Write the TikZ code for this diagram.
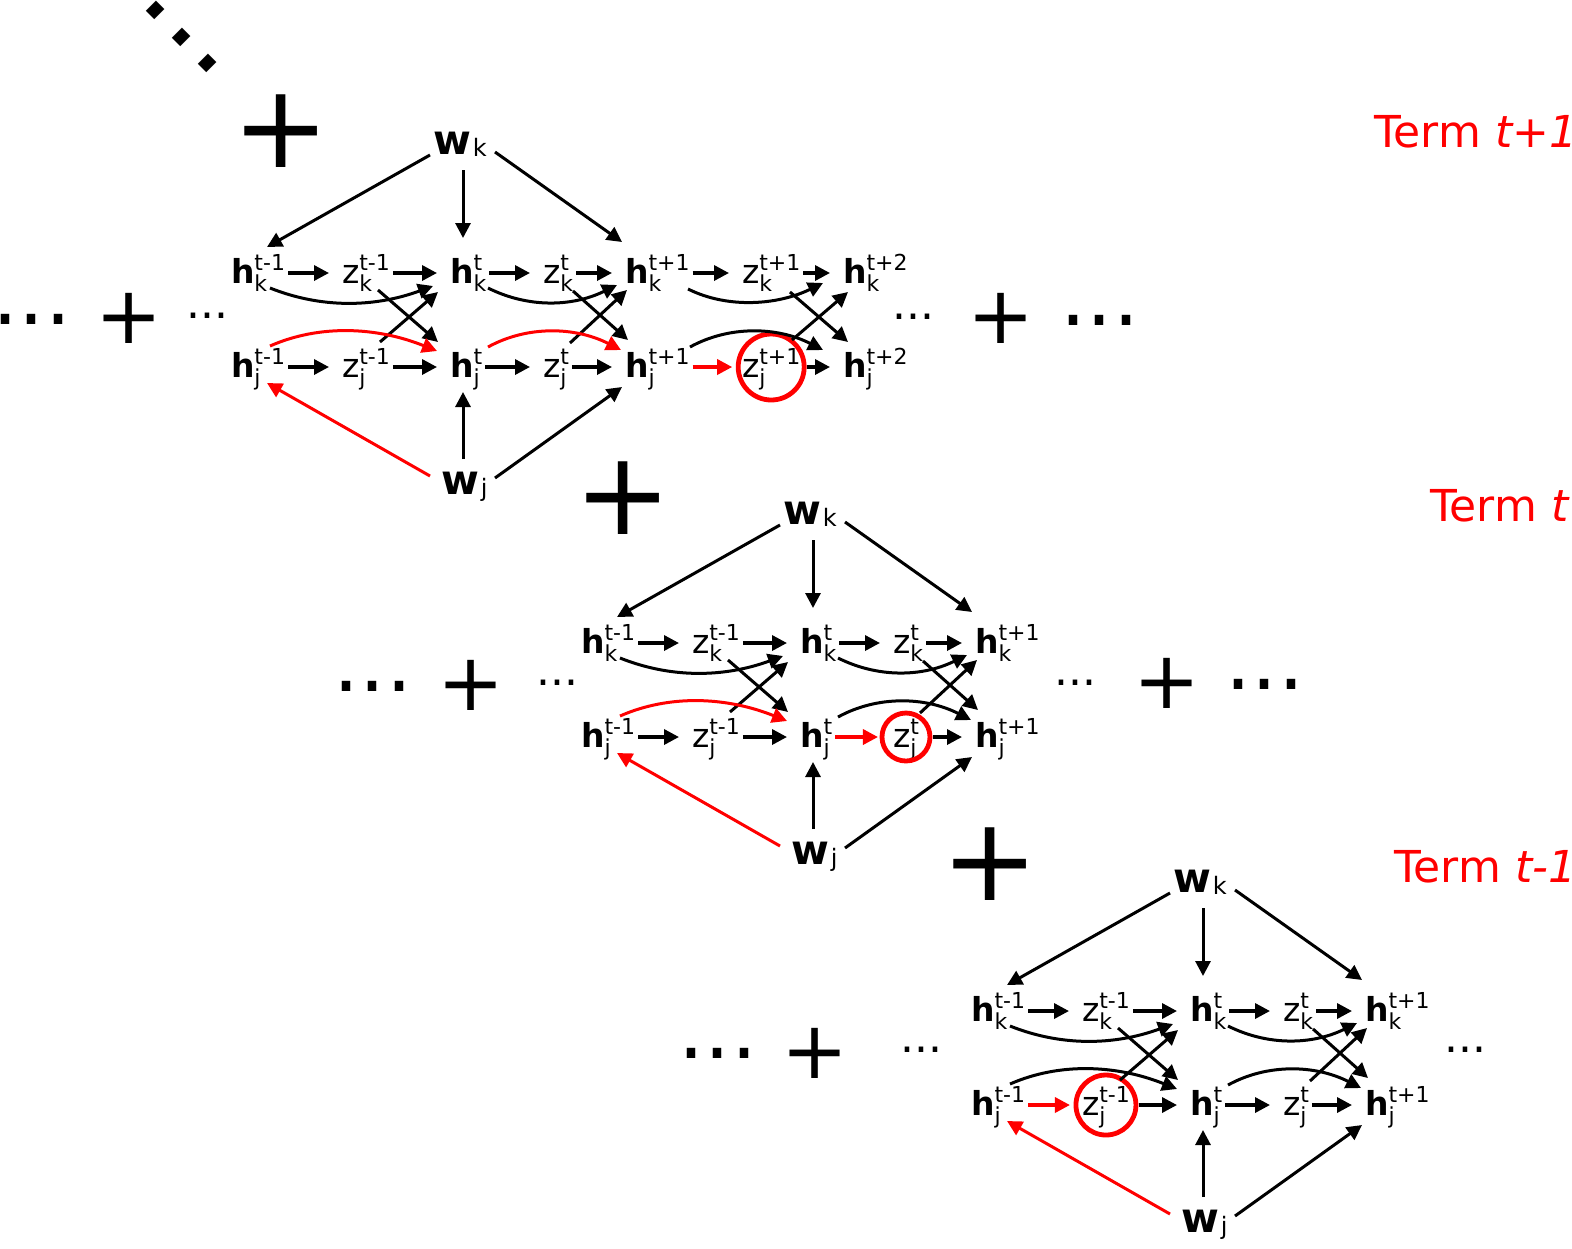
\documentclass[tikz,border=0pt]{standalone}
\usepackage{fontspec}
\setmainfont{DejaVu Sans}
\usetikzlibrary{arrows.meta}

\newsavebox\labsup
\newsavebox\labsub
\newlength\lablen
\newcommand\lab[3]{#1%
  \sbox\labsup{\fontsize{11}{11}\selectfont #2}%
  \sbox\labsub{\fontsize{11}{11}\selectfont #3}%
  \setlength\lablen{\wd\labsup}%
  \ifdim\wd\labsub>\lablen\setlength\lablen{\wd\labsub}\fi
  \rlap{\raisebox{6.5pt}{\usebox\labsup}}%
  \rlap{\raisebox{-4pt}{\usebox\labsub}}%
  \hspace*{\lablen}}
\newcommand\hlab[2]{\lab{\textbf{h}}{#1}{#2}}
\newcommand\zlab[2]{\lab{z}{#1}{#2}}
\newcommand\wlab[1]{\textbf{w}\kern1pt\raisebox{-1pt}{\fontsize{12}{12}\selectfont #1}}

\tikzset{
  lbl/.style={inner sep=0pt, outer sep=0pt, anchor=base west,
    font=\fontsize{16.5}{18}\selectfont, text height=16pt, text depth=6pt},
  wlbl/.style={inner sep=0pt, outer sep=0pt, anchor=base west,
    font=\fontsize{20.5}{22}\selectfont},
  arr/.style={line width=1.5pt, -{Triangle[length=7.5pt,width=7.5pt]}},
  harr/.style={arr, line width=1.7pt, shorten <=1.5pt, shorten >=6.5pt},
  circ/.style={circle, draw=red, line width=2.4pt, inner sep=0pt, outer sep=0pt},
  bigplus/.style={inner sep=0pt, font=\fontsize{58}{60}\selectfont},
  midplus/.style={inner sep=0pt, font=\fontsize{40}{42}\selectfont},
  bigdots/.style={inner sep=0pt, font=\fontsize{41}{42}\selectfont},
  diagdots/.style={inner sep=0pt, font=\fontsize{58}{60}\selectfont, rotate=-45},
  smalldots/.style={inner sep=0pt, font=\fontsize{22}{24}\selectfont},
  term/.style={inner sep=0pt, anchor=base west, text=red,
    font=\fontsize{22}{24}\selectfont},
}

\newcommand\gnodes[1]{%
  \node[lbl] (#1hk1) at (-2,10) {\hlab{t-1}{k}};
  \node[lbl] (#1zk1) at (109,10) {\zlab{t-1}{k}};
  \node[lbl] (#1hk2) at (217,10) {\hlab{t}{k}};
  \node[lbl] (#1zk2) at (310,10) {\zlab{t}{k}};
  \node[lbl] (#1hk3) at (392,10) {\hlab{t+1}{k}};
  \node[lbl] (#1hj1) at (-2,104) {\hlab{t-1}{j}};
  \node[lbl] (#1zj1) at (109,104) {\zlab{t-1}{j}};
  \node[lbl] (#1hj2) at (217,104) {\hlab{t}{j}};
  \node[lbl] (#1zj2) at (310,104) {\zlab{t}{j}};
  \node[lbl] (#1hj3) at (392,104) {\hlab{t+1}{j}};
  \node[wlbl] (#1wk) at (200,-119) {\wlab{k}};
  \node[wlbl] (#1wj) at (208,221) {\wlab{j}};
}

\newcommand\gedges[3]{%
  \draw[harr] (#1hk1) -- (#1zk1);
  \draw[harr] (#1zk1) -- (#1hk2);
  \draw[harr] (#1hk2) -- (#1zk2);
  \draw[harr] (#1zk2) -- (#1hk3);
  % section 1
  \draw[arr] ([shift={(39,5)}]#1hk1.base west) .. controls +(50,20) and +(-60,22) .. ([shift={(-17,3)}]#1hk2.base west);
  \draw[arr] ([shift={(36,7)}]#1zk1.base west) -- ([shift={(-12,-35)}]#1hj2.base west);
  \draw[arr] ([shift={(38,-35)}]#1zj1.base west) -- ([shift={(-12,9)}]#1hk2.base west);
  \draw[arr,#2] ([shift={(39,-31)}]#1hj1.base west) .. controls +(50,-22) and +(-60,-24) .. ([shift={(-13,-26)}]#1hj2.base west);
  % section 2
  \draw[arr] ([shift={(38,5)}]#1hk2.base west) .. controls +(40,20) and +(-45,22) .. ([shift={(-8,2)}]#1hk3.base west);
  \draw[arr] ([shift={(30,8)}]#1zk2.base west) -- ([shift={(3,-37)}]#1hj3.base west);
  \draw[arr] ([shift={(27,-34)}]#1zj2.base west) -- ([shift={(2,7)}]#1hk3.base west);
  \draw[arr,#3] ([shift={(38,-30)}]#1hj2.base west) .. controls +(40,-22) and +(-45,-23) .. ([shift={(-4,-27)}]#1hj3.base west);
  % w arrows
  \draw[arr] ([shift={(-3,1)}]#1wk.base west) -- ([shift={(36,-36)}]#1hk1.base west);
  \draw[arr] ([shift={(30,16)}]#1wk.base west) -- ([shift={(13,-45)}]#1hk2.base west);
  \draw[arr] ([shift={(62,-2)}]#1wk.base west) -- ([shift={(-3,-41)}]#1hk3.base west);
  \draw[arr,red] ([shift={(-11,-18)}]#1wj.base west) -- ([shift={(36,6)}]#1hj1.base west);
  \draw[arr] ([shift={(22,-35)}]#1wj.base west) -- ([shift={(13,15)}]#1hj2.base west);
  \draw[arr] ([shift={(54,-16)}]#1wj.base west) -- ([shift={(-3,10)}]#1hj3.base west);
}

\begin{document}
\begin{tikzpicture}[x=0.5pt, y=-0.5pt]
\useasboundingbox (0,0) rectangle (1572,1248);

% top diagonal dots and pluses between terms
\node[diagdots] (dd) at (182,37) {...};
\node[bigplus] (p1) at (281,131) {+};
\node[bigplus] (p2) at (623,498) {+};
\node[bigplus] (p3) at (990,864) {+};

% term labels
\node[term] (t1) at (1374,147) {Term \textit{t+1}};
\node[term] (t2) at (1430,521) {Term \textit{t}};
\node[term] (t3) at (1394,882) {Term \textit{t-1}};

% ---------- graph 1 : term t+1 ----------
\node[bigdots] (aL1) at (32,319) {...};
\node[midplus] (aL2) at (129,318) {+};
\node[smalldots] (aL3) at (207,316) {...};
\node[smalldots] (aR1) at (913,317) {...};
\node[midplus] (aR2) at (1001,318) {+};
\node[bigdots] (aR3) at (1100,320) {...};
\begin{scope}[shift={(233,273)}]
  \gnodes{a}
  \node[lbl] (azk3) at (509,10) {\zlab{t+1}{k}};
  \node[lbl] (ahk4) at (610,10) {\hlab{t+2}{k}};
  \node[lbl] (azj3) at (509,104) {\zlab{t+1}{j}};
  \node[lbl] (ahj4) at (610,104) {\hlab{t+2}{j}};
  \node[circ, minimum size=33pt] (acirc) at (azj3.center) {};
  \gedges{a}{red}{red}
  \draw[harr] (ahj1) -- (azj1);
  \draw[harr] (azj1) -- (ahj2);
  \draw[harr] (ahj2) -- (azj2);
  \draw[harr] (azj2) -- (ahj3);
  \draw[harr] (ahk3) -- (azk3);
  \draw[harr] (azk3) -- (ahk4);
  \draw[harr, red, shorten >=3pt] (ahj3) -- (acirc);
  \draw[harr] (acirc) -- (ahj4);
  \draw[arr] ([shift={(63,6)}]ahk3.base west) .. controls +(40,20) and +(-45,22) .. ([shift={(-20,0)}]ahk4.base west);
  \draw[arr] ([shift={(48,9)}]azk3.base west) -- ([shift={(5,-35)}]ahj4.base west);
  \draw[arr] ([shift={(50,-37)}]azj3.base west) -- ([shift={(5,9)}]ahk4.base west);
  \draw[arr] ([shift={(65,-30)}]ahj3.base west) .. controls +(40,-22) and +(-45,-23) .. ([shift={(-20,-27)}]ahj4.base west);
\end{scope}

% ---------- graph 2 : term t ----------
\node[bigdots] (bL1) at (373,686) {...};
\node[midplus] (bL2) at (471,685) {+};
\node[smalldots] (bL3) at (557,683) {...};
\node[smalldots] (bR1) at (1075,683) {...};
\node[midplus] (bR2) at (1167,683) {+};
\node[bigdots] (bR3) at (1265,684) {...};
\begin{scope}[shift={(583,643)}]
  \gnodes{b}
  \node[circ, minimum size=24pt] (bcirc) at (bzj2.center) {};
  \gedges{b}{red}{black}
  \draw[harr] (bhj1) -- (bzj1);
  \draw[harr] (bzj1) -- (bhj2);
  \draw[harr, red, shorten >=2pt] (bhj2) -- (bcirc);
  \draw[harr] (bcirc) -- (bhj3);
\end{scope}

% ---------- graph 3 : term t-1 ----------
\node[bigdots] (cL1) at (718,1053) {...};
\node[midplus] (cL2) at (815,1053) {+};
\node[smalldots] (cL3) at (921,1050) {...};
\node[smalldots] (cR1) at (1465,1050) {...};
\begin{scope}[shift={(973,1011)}]
  \gnodes{c}
  \node[circ, minimum size=30pt] (ccirc) at (czj1.center) {};
  \gedges{c}{black}{black}
  \draw[harr, red, shorten >=3pt] (chj1) -- (ccirc);
  \draw[harr] (ccirc) -- (chj2);
  \draw[harr] (chj2) -- (czj2);
  \draw[harr] (czj2) -- (chj3);
\end{scope}
\end{tikzpicture}
\end{document}
